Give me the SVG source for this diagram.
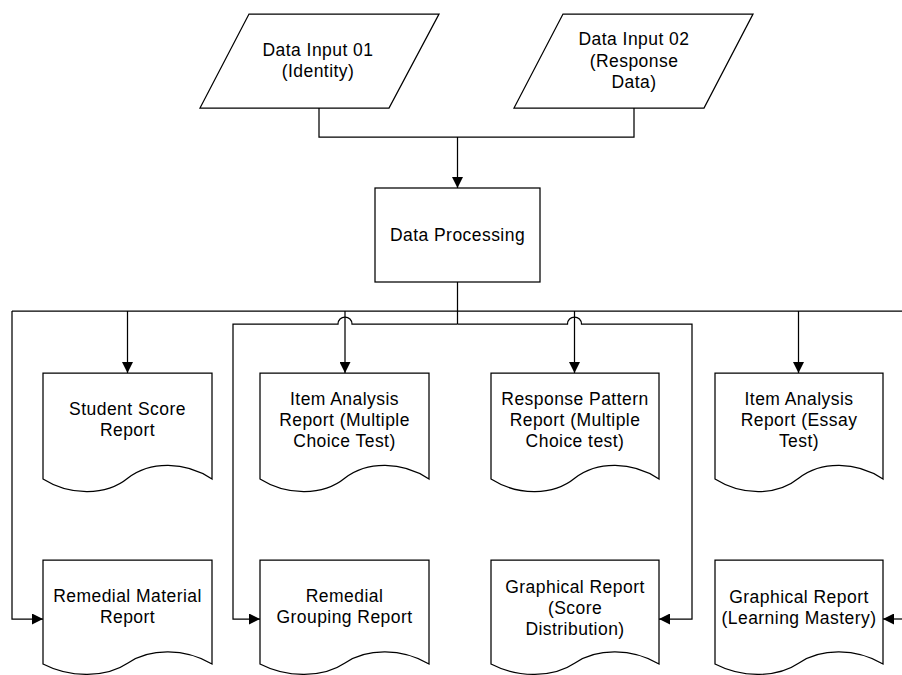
<svg xmlns="http://www.w3.org/2000/svg" width="902" height="675" viewBox="0 0 902 675">
<style>
.s{fill:#fff;stroke:#000;stroke-width:1.25}
.c{fill:none;stroke:#000;stroke-width:1.25}
.t{font-family:"Liberation Sans",Arial,sans-serif;font-size:17.5px;letter-spacing:0.45px;text-anchor:middle;fill:#000}
</style>
<defs>
<marker id="ah" markerUnits="userSpaceOnUse" markerWidth="11" markerHeight="11" refX="11" refY="5.5" orient="auto">
<path d="M0,0 L11,5.5 L0,11 Z" fill="#000"/>
</marker>
</defs>
<rect width="902" height="675" fill="#fff"/>
<g id="connectors">
<path class="c" d="M319,108 V137 H634 V108"/>
<path class="c" d="M457.5,137 V188" marker-end="url(#ah)"/>
<path class="c" d="M457.5,282 V324"/>
<path class="c" d="M12,311 H902"/>
<path class="c" d="M127.5,311 V373" marker-end="url(#ah)"/>
<path class="c" d="M345,311 V373" marker-end="url(#ah)"/>
<path class="c" d="M574.5,311 V373" marker-end="url(#ah)"/>
<path class="c" d="M798.5,311 V373" marker-end="url(#ah)"/>
<path class="c" d="M12,311 V619 H43" marker-end="url(#ah)"/>
<path class="c" d="M457.5,324 H352 A7,7 0 0 0 338,324 H233 V619 H260" marker-end="url(#ah)"/>
<path class="c" d="M457.5,324 H567.5 A7,7 0 0 1 581.5,324 H692 V619 H659" marker-end="url(#ah)"/>
<path class="c" d="M905,619 H883" marker-end="url(#ah)"/>
</g>
<g id="input01">
<path class="s" d="M249,14 H439 L389,108 H200 Z"/>
<text class="t" x="318" y="56">Data Input 01</text>
<text class="t" x="318" y="77">(Identity)</text>
</g>
<g id="input02">
<path class="s" d="M563,14 H753 L704,108 H514 Z"/>
<text class="t" x="634" y="45">Data Input 02</text>
<text class="t" x="634" y="67">(Response</text>
<text class="t" x="634" y="88">Data)</text>
</g>
<g id="processing">
<rect class="s" x="375" y="188" width="165" height="94"/>
<text class="t" x="457.5" y="241">Data Processing</text>
</g>
<g id="studentScore">
<path class="s" d="M43,373 H212 V479 C185,461 150,461 128,478 C106,496 70,496 43,479 Z"/>
<text class="t" x="127.5" y="415">Student Score</text>
<text class="t" x="127.5" y="436">Report</text>
</g>
<g id="itemAnalysisMC">
<path class="s" d="M260,373 H429 V479 C402,461 367,461 345,478 C323,496 287,496 260,479 Z"/>
<text class="t" x="344.5" y="405">Item Analysis</text>
<text class="t" x="344.5" y="426">Report (Multiple</text>
<text class="t" x="344.5" y="447">Choice Test)</text>
</g>
<g id="responsePattern">
<path class="s" d="M491,373 H659 V479 C632,461 597,461 575,478 C553,496 518,496 491,479 Z"/>
<text class="t" x="575" y="405">Response Pattern</text>
<text class="t" x="575" y="426">Report (Multiple</text>
<text class="t" x="575" y="447">Choice test)</text>
</g>
<g id="itemAnalysisEssay">
<path class="s" d="M715,373 H883 V479 C856,461 821,461 799,478 C777,496 742,496 715,479 Z"/>
<text class="t" x="799" y="405">Item Analysis</text>
<text class="t" x="799" y="426">Report (Essay</text>
<text class="t" x="799" y="447">Test)</text>
</g>
<g id="remedialMaterial">
<path class="s" d="M43,560 H212 V664 C185,648 150,648 128,663 C106,678 70,678 43,664 Z"/>
<text class="t" x="127.5" y="602">Remedial Material</text>
<text class="t" x="127.5" y="623">Report</text>
</g>
<g id="remedialGrouping">
<path class="s" d="M260,560 H429 V664 C402,648 367,648 345,663 C323,678 287,678 260,664 Z"/>
<text class="t" x="344.5" y="602">Remedial</text>
<text class="t" x="344.5" y="623">Grouping Report</text>
</g>
<g id="graphicalScore">
<path class="s" d="M491,560 H659 V664 C632,648 597,648 575,663 C553,678 518,678 491,664 Z"/>
<text class="t" x="575" y="593">Graphical Report</text>
<text class="t" x="575" y="614">(Score</text>
<text class="t" x="575" y="635">Distribution)</text>
</g>
<g id="graphicalMastery">
<path class="s" d="M715,560 H883 V664 C856,648 821,648 799,663 C777,678 742,678 715,664 Z"/>
<text class="t" x="799" y="603">Graphical Report</text>
<text class="t" x="799" y="624">(Learning Mastery)</text>
</g>
</svg>
